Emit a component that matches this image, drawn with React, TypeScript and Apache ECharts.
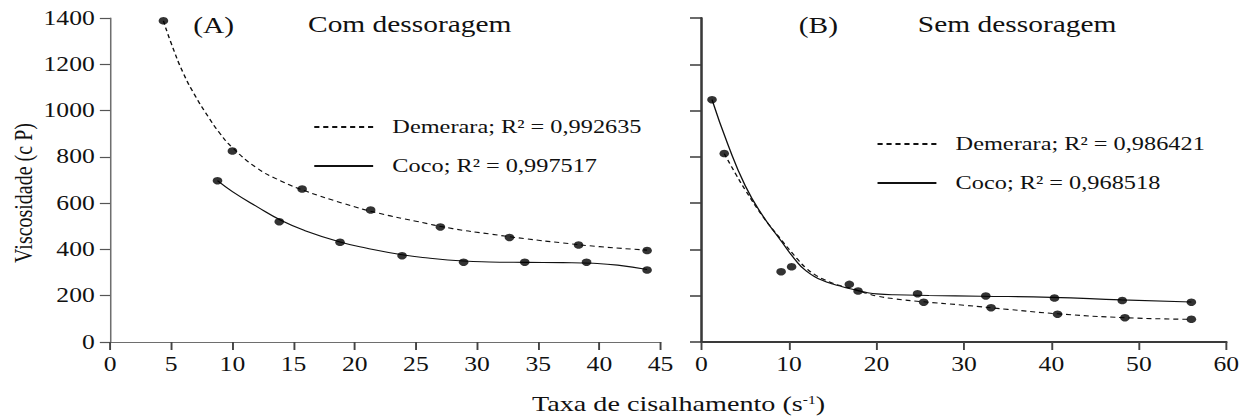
import React, { useEffect, useRef } from "react";
import * as echarts from "echarts";

// ---------- data ----------
// Panel A: Com dessoragem
const aDemX = [4.36, 10.0, 15.7, 21.3, 27.0, 32.65, 38.3, 43.9];
const aDemY = [1388, 825, 661, 570, 497, 452, 419, 395];
const aCocoX = [8.78, 13.83, 18.8, 23.87, 28.9, 33.9, 38.95, 43.9];
const aCocoY = [697, 520, 431, 373, 345, 345, 345, 311];
// fitted curves A
const aDemFitX = [4.36, 5, 6, 7, 8, 9, 10, 12, 14, 16, 19, 22, 25, 28, 31, 34, 37, 40, 43.9];
const aDemFitY = [1388, 1290, 1160, 1060, 975, 900, 840, 752, 695, 652, 600, 556, 522, 490, 467, 446, 428, 412, 397];
const aCocoFitX = [8.78, 10, 12, 14, 16, 18.8, 21, 23.87, 26, 28.9, 31, 34, 37, 39.5, 41.5, 43.9];
const aCocoFitY = [697, 650, 585, 525, 480, 432, 405, 377, 363, 350, 346, 344, 343, 340, 332, 313];

// Panel B: Sem dessoragem
const bDemX = [2.6, 10.3, 17.9, 25.4, 33.1, 40.7, 48.4, 56.0];
const bDemY = [814, 325, 220, 172, 148, 120, 105, 98];
const bCocoX = [1.2, 9.1, 16.9, 24.7, 32.5, 40.35, 48.1, 56.0];
const bCocoY = [1047, 304, 249, 209, 199, 190, 179, 172];
// fitted curves B
const bDemFitX = [2.6, 4, 5, 7, 9, 11, 12, 13, 14, 15, 16, 17, 18, 19, 20, 22, 25, 30, 35, 40.7, 48.4, 56];
const bDemFitY = [814, 720, 657, 543, 447, 357, 318, 290, 270, 254, 242, 232, 221, 209, 199, 187, 175, 159, 141, 122, 105, 98];
const bCocoFitX = [1.2, 3, 5, 7, 9, 11, 12, 13, 14, 15, 16, 17, 18, 19, 20, 22, 26, 32, 40, 48, 56];
const bCocoFitY = [1047, 855, 675, 545, 442, 342, 306, 281, 264, 251, 240, 230, 221, 213, 208, 204, 201, 198, 193, 182, 173];

const yTicks = { min: 0, max: 1400, interval: 200 };
const axA = { min: 0, max: 45, interval: 5 };
const axB = { min: 0, max: 60, interval: 10 };

const nameADem = "Demerara; R\u00b2 = 0,992635";
const nameACoco = "Coco; R\u00b2 = 0,997517";
const nameBDem = "Demerara; R\u00b2 = 0,986421";
const nameBCoco = "Coco; R\u00b2 = 0,968518";

const titleA = ["(A)", "Com dessoragem"];
const titleB = ["(B)", "Sem dessoragem"];
const yName = "Viscosidade (c P)";

// ---------- layout ----------
const FULL_W = 1243;
const H = 416;
const CW = 971;
const SX = FULL_W / CW;
const FONT = '"Liberation Serif", "Times New Roman", serif';
const INK = "#111";

const pairs = (xs: number[], ys: number[]) => xs.map((x, i) => [x, ys[i]]);

export default function App() {
  const ref = useRef<HTMLDivElement>(null);
  useEffect(() => {
    if (!ref.current) return;
    const chart = echarts.init(ref.current, undefined, { renderer: "svg" });
    const axisA = { lineStyle: { color: "#6e6e6e", width: 1.2 } };
    const axisB = { lineStyle: { color: "#3a3a3a", width: 2 } };
    const labelStyle = { color: INK, fontFamily: FONT, fontSize: 20 };
    const dashed = { color: INK, width: 1.1, type: [4, 3] as any };
    const solid = { color: INK, width: 1.1, type: "solid" as any };
    const titleStyle = { color: INK, fontFamily: FONT, fontSize: 23, fontWeight: "normal" as any, lineHeight: 24 };
    const legendBase = {
      orient: "vertical" as any,
      padding: 0,
      itemWidth: 46,
      itemHeight: 20,
      itemGap: 19,
      selectedMode: false,
      itemStyle: { opacity: 0, borderWidth: 0 },
      textStyle: { color: INK, fontFamily: FONT, fontSize: 19, lineHeight: 20, padding: [0, 0, 0, 10] },
    };
    const fmt = (v: number) => String(v);
    chart.setOption({
      animation: false,
      backgroundColor: "#fff",
      title: [
        { text: titleA[0], left: 151, top: 13, padding: 0, textStyle: titleStyle },
        { text: titleA[1], left: 240.6, top: 12, padding: 0, textStyle: titleStyle },
        { text: titleB[0], left: 624, top: 13, padding: 0, textStyle: titleStyle },
        { text: titleB[1], left: 717, top: 12, padding: 0, textStyle: titleStyle },
      ],
      legend: [
        { ...legendBase, left: 244.5, top: 117, data: [nameADem, nameACoco] },
        { ...legendBase, left: 684.5, top: 134, data: [nameBDem, nameBCoco] },
      ],
      grid: [
        { left: 86, width: 430, top: 18, height: 324 },
        { left: 548, width: 411, top: 18, height: 324 },
      ],
      xAxis: [
        {
          type: "value", gridIndex: 0, ...axA, splitLine: { show: false },
          axisLine: axisA, axisTick: { length: 8, lineStyle: { color: "#444", width: 1.5 } },
          axisLabel: { ...labelStyle, margin: 12, showMinLabel: true, showMaxLabel: true, formatter: fmt },
        },
        {
          type: "value", gridIndex: 1, ...axB, splitLine: { show: false },
          axisLine: axisB, axisTick: { length: 8, lineStyle: { color: "#444", width: 1.5 } },
          axisLabel: { ...labelStyle, margin: 12, showMinLabel: true, showMaxLabel: true, formatter: fmt },
        },
      ],
      yAxis: [
        {
          type: "value", gridIndex: 0, ...yTicks, splitLine: { show: false },
          axisLine: { show: true, ...axisA }, axisTick: { show: true, length: 8, lineStyle: { color: "#555", width: 1.2 } },
          axisLabel: { ...labelStyle, margin: 12, formatter: fmt },
        },
        {
          type: "value", gridIndex: 1, ...yTicks, splitLine: { show: false },
          axisLine: { show: true, ...axisB }, axisTick: { show: true, length: 9, lineStyle: { color: "#3a3a3a", width: 1.5 } },
          axisLabel: { show: false },
        },
      ],
      graphic: [
        {
          type: "text", x: 18.5, y: 193, rotation: Math.PI / 2,
          style: { text: yName, fill: INK, font: `20px ${FONT}`, align: "center", verticalAlign: "middle" },
        },
        {
          type: "text", x: 530, y: 404,
          style: {
            text: "{a|Taxa de cisalhamento (s}{s|-1}{a|)}",
            align: "center", verticalAlign: "middle",
            rich: {
              a: { fill: INK, fontFamily: FONT, fontSize: 22, lineHeight: 20, verticalAlign: "bottom" },
              s: { fill: INK, fontFamily: FONT, fontSize: 12, lineHeight: 14, verticalAlign: "top" },
            },
          } as any,
        },
      ],
      series: [
        { name: nameADem, type: "line", xAxisIndex: 0, yAxisIndex: 0, data: pairs(aDemFitX, aDemFitY), symbol: "none", smooth: 0.5, lineStyle: dashed, itemStyle: { color: INK }, z: 2 },
        { name: nameACoco, type: "line", xAxisIndex: 0, yAxisIndex: 0, data: pairs(aCocoFitX, aCocoFitY), symbol: "none", smooth: 0.5, lineStyle: solid, itemStyle: { color: INK }, z: 2 },
        { name: "Demerara A (dados)", type: "scatter", xAxisIndex: 0, yAxisIndex: 0, data: pairs(aDemX, aDemY), symbolSize: 7.5, itemStyle: { color: "#000" }, z: 3 },
        { name: "Coco A (dados)", type: "scatter", xAxisIndex: 0, yAxisIndex: 0, data: pairs(aCocoX, aCocoY), symbolSize: 7.5, itemStyle: { color: "#000" }, z: 3 },
        { name: nameBDem, type: "line", xAxisIndex: 1, yAxisIndex: 1, data: pairs(bDemFitX, bDemFitY), symbol: "none", smooth: 0.5, lineStyle: dashed, itemStyle: { color: INK }, z: 2 },
        { name: nameBCoco, type: "line", xAxisIndex: 1, yAxisIndex: 1, data: pairs(bCocoFitX, bCocoFitY), symbol: "none", smooth: 0.5, lineStyle: solid, itemStyle: { color: INK }, z: 2 },
        { name: "Demerara B (dados)", type: "scatter", xAxisIndex: 1, yAxisIndex: 1, data: pairs(bDemX, bDemY), symbolSize: 7.5, itemStyle: { color: "#000" }, z: 3 },
        { name: "Coco B (dados)", type: "scatter", xAxisIndex: 1, yAxisIndex: 1, data: pairs(bCocoX, bCocoY), symbolSize: 7.5, itemStyle: { color: "#000" }, z: 3 },
      ],
    });
    return () => chart.dispose();
  }, []);
  return (
    <div style={{ position: "absolute", left: 0, top: 0, width: FULL_W, height: H, overflow: "hidden", background: "#fff" }}>
      <div ref={ref} style={{ width: CW, height: H, transform: `scaleX(${SX})`, transformOrigin: "0 0" }} />
    </div>
  );
}
